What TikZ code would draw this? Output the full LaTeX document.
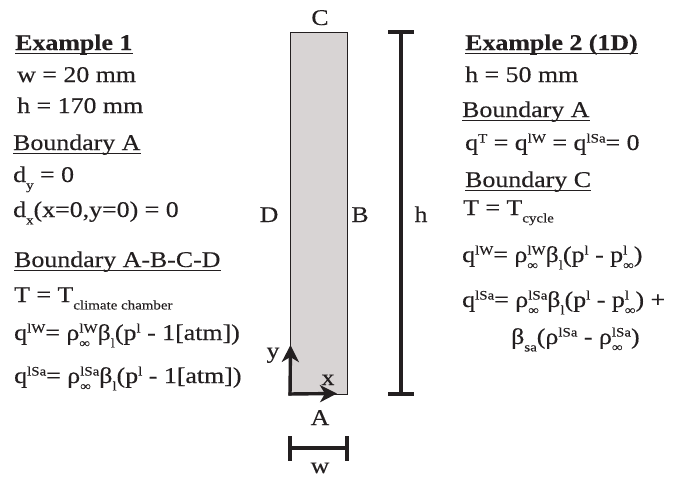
\documentclass[tikz,border=0pt]{standalone}
\usepackage{fontspec}
\setmainfont[FakeStretch=1.15,FakeBold=0.3]{Liberation Serif}
\usetikzlibrary{arrows.meta}
\definecolor{ink}{RGB}{35,31,32}
\definecolor{slabgray}{RGB}{216,212,212}
\newcommand\mysup[1]{\raisebox{0.33em}{\fontsize{13}{13}\selectfont #1}}
\newcommand\mysub[1]{\raisebox{-0.33em}{\fontsize{13}{13}\selectfont #1}}
\newcommand\mysupsub[2]{\ooalign{\mysup{#1}\cr\mysub{#2}\cr}}
\tikzset{
  txt/.style={anchor=base west, inner sep=0pt, text=ink, font=\fontsize{22.5}{27}\selectfont},
  lab/.style={anchor=base, inner sep=0pt, text=ink, font=\fontsize{22.5}{27}\selectfont},
  uline/.style={draw=ink, line width=1.4pt},
  dimbar/.style={draw=ink, line width=3.4pt},
  axisarrow/.style={draw=ink, line width=3.4pt, -{Stealth[length=17pt,width=17pt,inset=5pt]}},
  slabbox/.style={draw=ink, line width=1pt, fill=slabgray, minimum width=57pt, minimum height=362pt, inner sep=0pt}
}
\begin{document}
\begin{tikzpicture}[x=1pt,y=-1pt]
\useasboundingbox (0,0) rectangle (685,479);
% left column
\node[txt] (e1) at (15,50) {\textbf{Example 1}};
\draw[uline] ([yshift=-3.5pt]e1.base west) -- ([yshift=-3.5pt]e1.base east);
\node[txt] (l1) at (17,82) {w = 20 mm};
\node[txt] (l2) at (17,113) {h = 170 mm};
\node[txt] (l3) at (13,150) {Boundary A};
\draw[uline] ([yshift=-3.5pt]l3.base west) -- ([yshift=-3.5pt]l3.base east);
\node[txt] (l4) at (13,182) {d\mysub{y} = 0};
\node[txt] (l5) at (13,217) {d\mysub{x}(x=0,y=0) = 0};
\node[txt] (l6) at (14,267) {Boundary A-B-C-D};
\draw[uline] ([yshift=-3.5pt]l6.base west) -- ([yshift=-3.5pt]l6.base east);
\node[txt] (l7) at (14,302) {T = T\mysub{climate chamber}};
\node[txt] (l8) at (14,340) {q\mysup{lW}= ρ\mysupsub{lW}{∞}β\mysub{l}(p\mysup{l} - 1[atm])};
\node[txt] (l9) at (14,383) {q\mysup{lSa}= ρ\mysupsub{lSa}{∞}β\mysub{l}(p\mysup{l} - 1[atm])};
% right column
\node[txt] (e2) at (465,50) {\textbf{Example 2 (1D)}};
\draw[uline] ([yshift=-3.5pt]e2.base west) -- ([yshift=-3.5pt]e2.base east);
\node[txt] (r1) at (465,82) {h = 50 mm};
\node[txt] (r2) at (462,117) {Boundary A};
\draw[uline] ([yshift=-3.5pt]r2.base west) -- ([yshift=-3.5pt]r2.base east);
\node[txt] (r3) at (465,150) {q\mysup{T} = q\mysup{lW} = q\mysup{lSa}= 0};
\node[txt] (r4) at (465,187) {Boundary C};
\draw[uline] ([yshift=-3.5pt]r4.base west) -- ([yshift=-3.5pt]r4.base east);
\node[txt] (r5) at (463,215) {T = T\mysub{cycle}};
\node[txt] (r6) at (462,262) {q\mysup{lW}= ρ\mysupsub{lW}{∞}β\mysub{l}(p\mysup{l} - p\mysupsub{l}{∞})};
\node[txt] (r7) at (462,307) {q\mysup{lSa}= ρ\mysupsub{lSa}{∞}β\mysub{l}(p\mysup{l} - p\mysupsub{l}{∞}) +};
\node[txt] (r8) at (511,344) {β\mysub{sa}(ρ\mysup{lSa} - ρ\mysupsub{lSa}{∞})};
% slab
\node[slabbox] (slab) at (318.5,213) {};
\node[lab] (C) at (320,25) {C};
\node[lab] (D) at (269,222) {D};
\node[lab] (B) at (360,222) {B};
\node[lab] (A) at (320,425) {A};
% axes
\coordinate (o) at ([xshift=0.5pt,yshift=0.5pt]slab.south west);
\coordinate (ytip) at (290.5,345);
\coordinate (xtip) at (337,393.5);
\draw[axisarrow] ([yshift=-1.7pt]o) -- (ytip);
\draw[axisarrow] ([xshift=-1.7pt]o) -- (xtip);
\node[lab] (ylab) at (273,358) {y};
\node[lab] (xlab) at (328,385) {x};
% h dimension
\coordinate (ht) at (401,32);
\coordinate (hb) at (401,394);
\draw[dimbar] (ht) -- (hb);
\draw[dimbar] ([xshift=-13pt]ht) -- ([xshift=13pt]ht);
\draw[dimbar] ([xshift=-13pt]hb) -- ([xshift=13pt]hb);
\node[lab] (hlab) at (421,222) {h};
% w dimension
\coordinate (wl) at (290,448);
\coordinate (wr) at (347,448);
\draw[dimbar] (wl) -- (wr);
\draw[dimbar] ([yshift=12pt]wl) -- ([yshift=-13pt]wl);
\draw[dimbar] ([yshift=12pt]wr) -- ([yshift=-13pt]wr);
\node[lab] (wlab) at (320,473) {w};
\end{tikzpicture}
\end{document}
